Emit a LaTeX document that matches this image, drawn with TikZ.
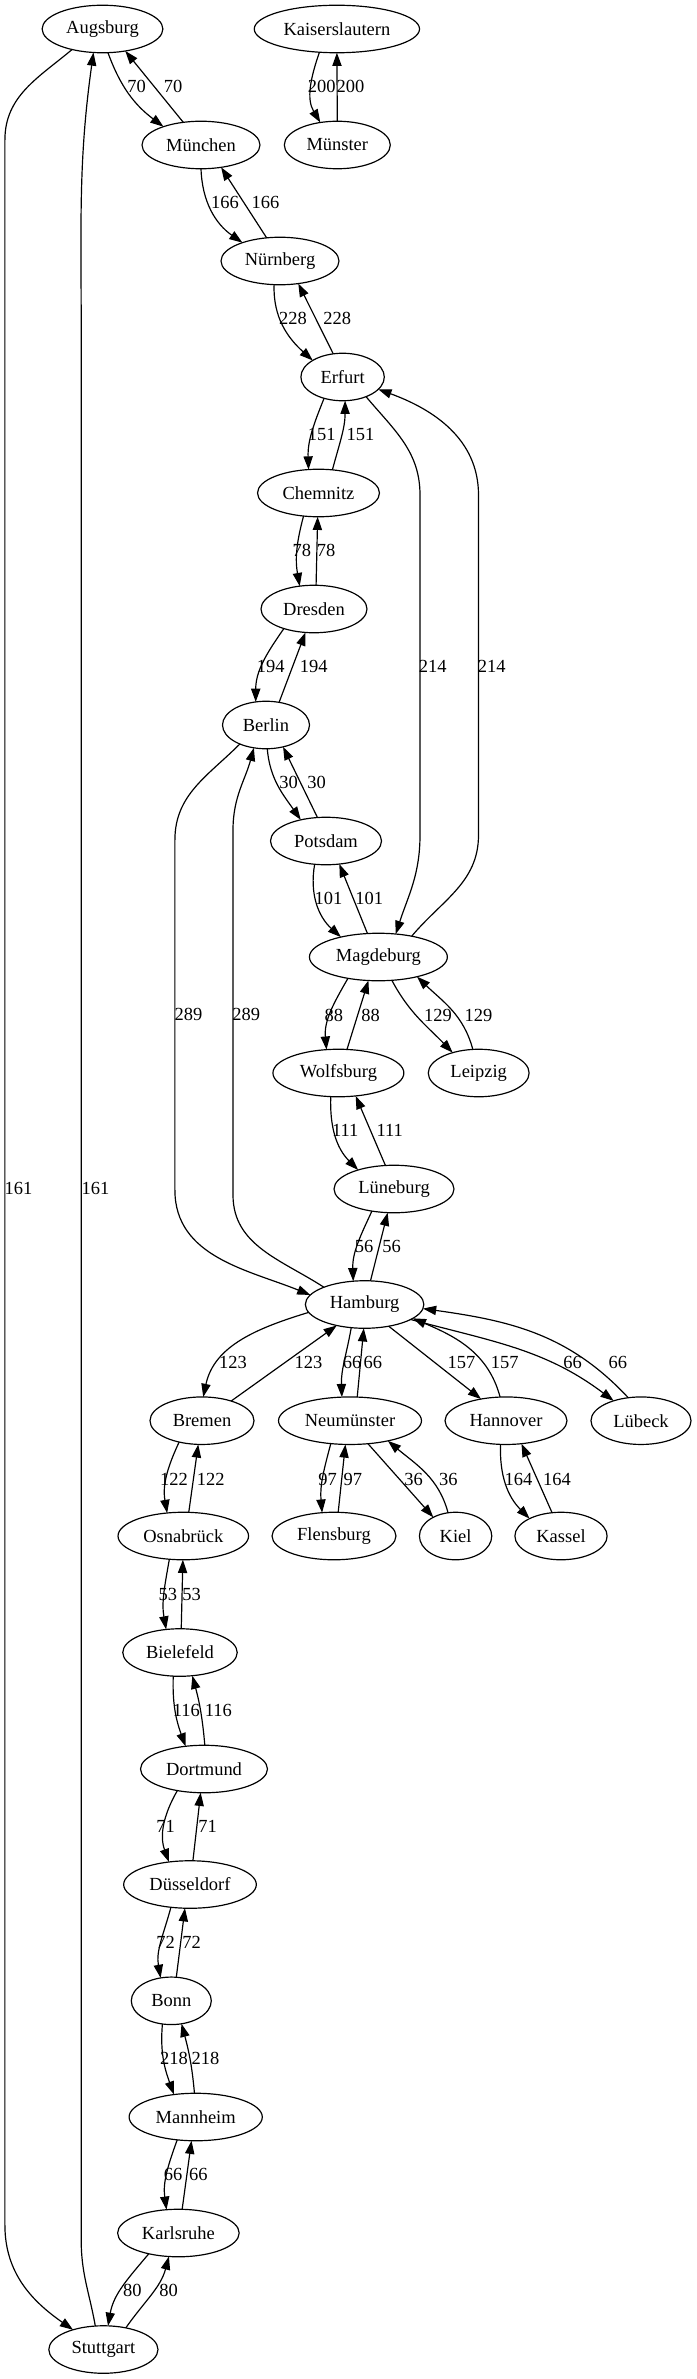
\documentclass[tikz,border=0pt]{standalone}
\usepackage{fontspec}
\setmainfont{Liberation Serif}
\usetikzlibrary{arrows.meta, shapes.geometric}

\begin{document}
\begin{tikzpicture}[
  x=0.7576pt, y=-0.7576pt,
  font=\fontsize{14pt}{17pt}\selectfont,
  city/.style={ellipse, draw, line width=0.9pt, inner sep=0pt, outer sep=0pt, minimum height=36pt},
  lbl/.style={inner sep=0pt},
  road/.style={line width=0.9pt, -{Triangle[length=10pt, width=7pt]}},
]
\useasboundingbox (0,0) rectangle (696,2379);
\fill[white] (0,0) rectangle (696,2379);

\node[city, minimum width=91.5pt]  (aug) at (102.5,29)    {Augsburg};
\node[city, minimum width=125.2pt] (kai) at (336.9,29)    {Kaiserslautern};
\node[city, minimum width=89.4pt]  (muc) at (201,145)     {München};
\node[city, minimum width=80.3pt]  (mst) at (337.3,145)   {Münster};
\node[city, minimum width=89.4pt]  (nue) at (280,261)     {Nürnberg};
\node[city, minimum width=63.2pt]  (erf) at (342.6,377)   {Erfurt};
\node[city, minimum width=92.4pt]  (che) at (318.5,493)   {Chemnitz};
\node[city, minimum width=80.3pt]  (dre) at (314,609)     {Dresden};
\node[city, minimum width=65.9pt]  (ber) at (266,725)     {Berlin};
\node[city, minimum width=84.1pt]  (pot) at (326,841)     {Potsdam};
\node[city, minimum width=104.5pt] (mag) at (378.4,957)   {Magdeburg};
\node[city, minimum width=99.2pt]  (wob) at (338.4,1073)  {Wolfsburg};
\node[city, minimum width=76.4pt]  (lei) at (478.7,1073)  {Leipzig};
\node[city, minimum width=90.9pt]  (lue) at (394,1189)    {Lüneburg};
\node[city, minimum width=89.8pt]  (ham) at (364.6,1304.5) {Hamburg};
\node[city, minimum width=78.8pt]  (bre) at (202,1420.7)  {Bremen};
\node[city, minimum width=108.3pt] (neu) at (350,1420.7)  {Neumünster};
\node[city, minimum width=92.4pt]  (han) at (506,1420.7)  {Hannover};
\node[city, minimum width=75.8pt]  (lub) at (641,1420.7)  {Lübeck};
\node[city, minimum width=98.9pt]  (osn) at (183.3,1536)  {Osnabrück};
\node[city, minimum width=93.9pt]  (fle) at (334,1536)    {Flensburg};
\node[city, minimum width=54.8pt]  (kie) at (455.6,1536)  {Kiel};
\node[city, minimum width=69.9pt]  (kas) at (561,1536)    {Kassel};
\node[city, minimum width=86.7pt]  (bie) at (180,1652.5)  {Bielefeld};
\node[city, minimum width=96.2pt]  (dor) at (204,1769)    {Dortmund};
\node[city, minimum width=100.5pt] (dus) at (190,1884.5)  {Düsseldorf};
\node[city, minimum width=60.6pt]  (bon) at (171.3,2000.8) {Bonn};
\node[city, minimum width=100.9pt] (man) at (195.7,2117)  {Mannheim};
\node[city, minimum width=92.1pt]  (kar) at (178.4,2233)  {Karlsruhe};
\node[city, minimum width=82.7pt]  (stu) at (103.4,2349.5) {Stuttgart};

\draw[road] (aug.-77) to[out=-70,in=143] (muc.154) node[lbl] at (136.7,86.7) {70};
\draw[road] (muc.128) -- (aug.-44) node[lbl] at (173,86.7) {70};
\draw[road] (kai.-127) to[out=-109,in=121] (mst.127) node[lbl] at (321.8,86.7) {200};
\draw[road] (mst.north) -- (kai.south) node[lbl] at (350.6,86.7) {200};
\draw[road] (muc.-90) to[out=-88,in=145] (nue.154) node[lbl] at (225,202.3) {166};
\draw[road] (nue.120) -- (muc.-48) node[lbl] at (265.4,202.3) {166};
\draw[road] (nue.-104) to[out=-92,in=138] (erf.151) node[lbl] at (293,318.3) {228};
\draw[road] (erf.112) -- (nue.-51) node[lbl] at (337.3,318.3) {228};
\draw[road] (erf.-131) to[out=-112,in=92] (che.113) node[lbl] at (321.8,434) {151};
\draw[road] (che.59) to[out=75,in=-90] (erf.-84) node[lbl] at (360.4,434) {151};
\draw[road] (erf.-40) to[out=-50,in=90] (420,495) -- (420,835) to[out=-90,in=72] (mag.53) node[lbl] at (432.8,666.7) {214};
\draw[road] (mag.32) to[out=50,in=-90] (478.5,835) -- (478.5,495) to[out=90,in=-20] (erf.-19) node[lbl] at (491.8,666.7) {214};
\draw[road] (che.-123) to[out=-105,in=100] (dre.122) node[lbl] at (301.8,550.7) {78};
\draw[road] (dre.85) -- (che.-92) node[lbl] at (326.2,550.7) {78};
\draw[road] (dre.-147) to[out=-125,in=90] (ber.114) node[lbl] at (270.7,666.7) {194};
\draw[road] (ber.60) -- (dre.-110) node[lbl] at (313.8,666.7) {194};
\draw[road] (ber.-87) to[out=-85,in=125] (pot.140) node[lbl] at (288.5,782.7) {30};
\draw[road] (pot.110) -- (ber.-52) node[lbl] at (316.5,782.7) {30};
\draw[road] (ber.-144) to[out=-135,in=90] (174.9,840) -- (174.9,1190) to[out=-90,in=158] (ham.170) node[lbl] at (188.6,1014.3) {289};
\draw[road] (ham.157) to[out=147,in=-90] (233,1195) -- (233,830) to[out=90,in=-105] (ber.-118) node[lbl] at (246.3,1014.3) {289};
\draw[road] (pot.-116) to[out=-100,in=138] (mag.152) node[lbl] at (328.4,898.3) {101};
\draw[road] (mag.115) -- (pot.-60) node[lbl] at (369.3,898.3) {101};
\draw[road] (mag.-145) to[out=-120,in=95] (wob.117) node[lbl] at (333.8,1015) {88};
\draw[road] (wob.70) -- (mag.-113) node[lbl] at (370.6,1015) {88};
\draw[road] (mag.-60) to[out=-62,in=134] (lei.142) node[lbl] at (438.1,1015) {129};
\draw[road] (lei.104) to[out=105,in=-44] (mag.-27) node[lbl] at (478.5,1015) {129};
\draw[road] (wob.-108) to[out=-92,in=135] (lue.152) node[lbl] at (345.3,1130) {111};
\draw[road] (lue.110) -- (wob.-53) node[lbl] at (389.7,1130) {111};
\draw[road] (lue.-135) to[out=-115,in=92] (ham.116) node[lbl] at (364,1246) {56};
\draw[road] (ham.76) -- (lue.-105) node[lbl] at (391.5,1246) {56};
\draw[road] (ham.-172) to[out=-163,in=78] (bre.87) node[lbl] at (233,1362.3) {123};
\draw[road] (bre.34) -- (ham.-143) node[lbl] at (308.5,1362.3) {123};
\draw[road] (ham.-120) to[out=-100,in=92] (neu.109) node[lbl] at (352,1362.3) {66};
\draw[road] (neu.73) -- (ham.-92) node[lbl] at (372.8,1362.3) {66};
\draw[road] (ham.-42) -- (han.139) node[lbl] at (461.6,1362.3) {157};
\draw[road] (han.104) to[out=105,in=-23] (ham.-16) node[lbl] at (504.7,1362.3) {157};
\draw[road] (ham.-18) to[out=-15,in=143] (lub.144) node[lbl] at (572.6,1362.3) {66};
\draw[road] (lub.119) to[out=133,in=-8] (ham.-4) node[lbl] at (617.8,1362.3) {66};
\draw[road] (bre.-137) to[out=-115,in=100] (osn.125) node[lbl] at (174,1479) {122};
\draw[road] (osn.77) -- (bre.-99) node[lbl] at (210.8,1479) {122};
\draw[road] (neu.-130) to[out=-105,in=95] (fle.117) node[lbl] at (327.6,1479) {97};
\draw[road] (fle.80) -- (neu.-101) node[lbl] at (352.9,1479) {97};
\draw[road] (neu.-52) -- (kie.140) node[lbl] at (413.7,1479) {36};
\draw[road] (kie.108) to[out=105,in=-40] (neu.-28) node[lbl] at (448.3,1479) {36};
\draw[road] (han.-103) to[out=-92,in=135] (kas.151) node[lbl] at (518.4,1479) {164};
\draw[road] (kas.111) -- (han.-56) node[lbl] at (557,1479) {164};
\draw[road] (osn.-121) to[out=-100,in=100] (bie.121) node[lbl] at (167.8,1594) {53};
\draw[road] (bie.87) -- (osn.-91) node[lbl] at (191.7,1594) {53};
\draw[road] (bie.-106) to[out=-92,in=110] (dor.129) node[lbl] at (186.4,1710) {116};
\draw[road] (dor.88) to[out=95,in=-75] (bie.-62) node[lbl] at (218.4,1710) {116};
\draw[road] (dor.-141) to[out=-120,in=110] (dus.133) node[lbl] at (165.6,1826) {71};
\draw[road] (dus.83) -- (dor.-98) node[lbl] at (207.7,1826) {71};
\draw[road] (dus.-130) to[out=-105,in=100] (bon.115) node[lbl] at (165.6,1942.7) {72};
\draw[road] (bon.78) -- (dus.-102) node[lbl] at (191.7,1942.7) {72};
\draw[road] (bon.-111) to[out=-95,in=110] (man.134) node[lbl] at (174,2058.3) {218};
\draw[road] (man.93) to[out=95,in=-75] (bon.-66) node[lbl] at (205.5,2058.3) {218};
\draw[road] (man.-129) to[out=-110,in=98] (kar.117) node[lbl] at (173.1,2174.3) {66};
\draw[road] (kar.81) -- (man.-100) node[lbl] at (198.4,2174.3) {66};
\draw[road] (kar.-145) to[out=-130,in=80] (stu.79) node[lbl] at (132.3,2290) {80};
\draw[road] (stu.44) to[out=55,in=-105] (kar.-112) node[lbl] at (168.7,2290) {80};
\draw[road] (aug.-146) to[out=-140,in=90] (4.9,140) -- (4.9,2225) to[out=-90,in=145] (stu.147) node[lbl] at (18.6,1188.3) {161};
\draw[road] (stu.109) to[out=100,in=-90] (81.2,2240) -- (81.2,330) to[out=90,in=-98] (aug.-111) node[lbl] at (95.4,1188.3) {161};
\end{tikzpicture}
\end{document}
